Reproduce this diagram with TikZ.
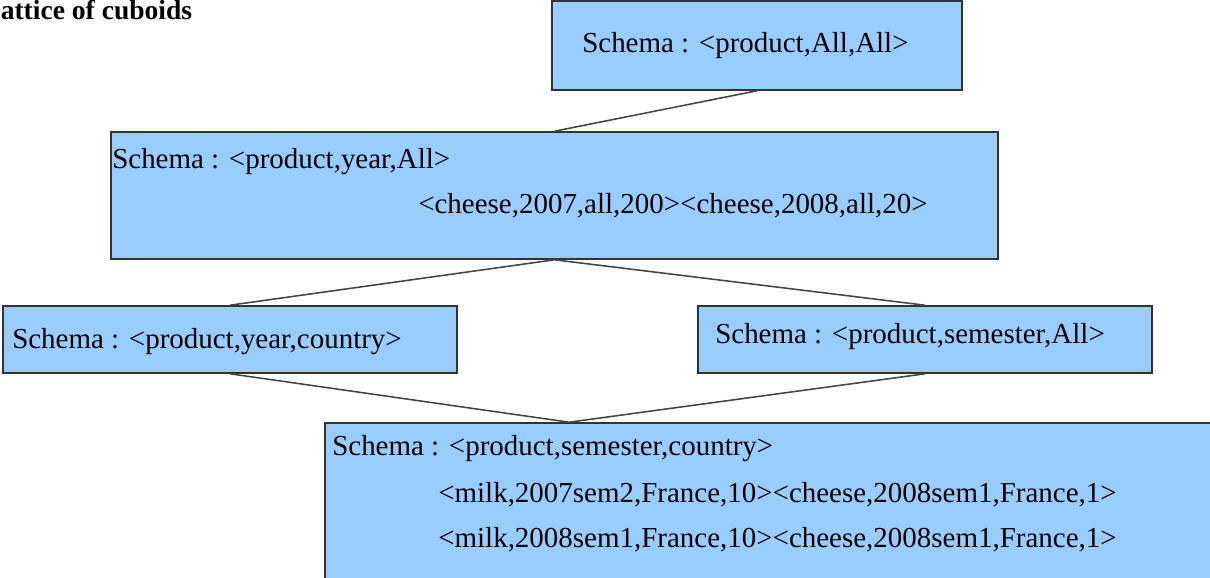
\documentclass[tikz,border=0pt]{standalone}
\usepackage{fontspec}
\setmainfont{Liberation Serif}
\usetikzlibrary{calc}
\definecolor{cubefill}{HTML}{99CCFF}
\definecolor{cubeline}{HTML}{333333}
\definecolor{linkgray}{HTML}{444444}
\tikzset{
  cube/.style={draw=cubeline, fill=cubefill, line width=1.1pt, rectangle, inner sep=0pt},
  lbl/.style={anchor=base west, inner sep=0pt, font=\fontsize{20.6}{24}\selectfont},
  link/.style={draw=linkgray, line width=1.1pt},
}

\begin{document}
\begin{tikzpicture}[x=0.025cm, y=-0.025cm]
  \useasboundingbox (0,0) rectangle (1210,578);
  \clip (0,0) rectangle (1210,578);

  % Title (cut at the left edge)
  \node[lbl, font=\fontsize{19.6}{24}\selectfont\bfseries] (title) at (0.5,20) {attice of cuboids};

  % Cuboids
  \node[cube, minimum width=10.25cm, minimum height=2.225cm] (c0) at (757,45.5) {};
  \node[cube, minimum width=22.175cm, minimum height=3.175cm] (c1) at (554.5,195.5) {};
  \node[cube, minimum width=11.35cm, minimum height=1.675cm] (c2) at (230,339.5) {};
  \node[cube, minimum width=11.35cm, minimum height=1.675cm] (c3) at (925,339.5) {};
  \node[cube, minimum width=22.25cm, minimum height=4.425cm] (c4) at (770,511.5) {};

  % Schemas and cells
  \node[lbl] (t0) at (582,53) {Schema : <product,All,All>};
  \node[lbl] (t1) at (112,168) {Schema : <product,year,All>};
  \node[lbl] (t1b) at (418,213) {<cheese,2007,all,200><cheese,2008,all,20>};
  \node[lbl] (t2) at (12,348) {Schema : <product,year,country>};
  \node[lbl] (t3) at (715,343) {Schema : <product,semester,All>};
  \node[lbl] (t4) at (332,455) {Schema : <product,semester,country>};
  \node[lbl] (t4b) at (438,502) {<milk,2007sem2,France,10><cheese,2008sem1,France,1>};
  \node[lbl] (t4c) at (438,547) {<milk,2008sem1,France,10><cheese,2008sem1,France,1>};

  % Lattice edges
  \coordinate (c4in) at ($(c4.north west)+(245,0)$);
  \draw[link] (c0.south) -- (c1.north);
  \draw[link] (c1.south) -- (c2.north);
  \draw[link] (c1.south) -- (c3.north);
  \draw[link] (c2.south) -- (c4in);
  \draw[link] (c3.south) -- (c4in);
\end{tikzpicture}
\end{document}
